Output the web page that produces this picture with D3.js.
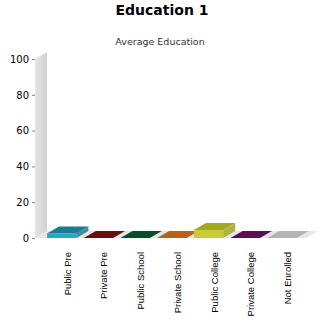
<!DOCTYPE html>
<html>
<head>
<meta charset="utf-8">
<script src="https://cdn.jsdelivr.net/npm/d3@7"></script>
<style>
  body { margin: 0; background: #fff; }
</style>
</head>
<body>
<div id="chart"></div>
<script>
// data
var categories = ['Public Pre', 'Private Pre', 'Public School', 'Private School', 'Public College', 'Private College', 'Not Enrolled'];
var values = [2.5, 0, 0, 0, 4.5, 0, 0];
var yTicks = [0, 20, 40, 60, 80, 100];
var frontColors = ['#26a8c6', '#7a1414', '#0f5c30', '#d2712c', '#c9cd33', '#6e1463', '#a6a6a6'];
var topColors = ['#1b7c90', '#6a0f0f', '#0c4d28', '#b8601f', '#a3a822', '#5b0f52', '#b4b4b4'];

var svgWidth = 325;
var svgHeight = 325;

// 3d depth offset
var dx = 12;
var dy = -7;

var svg = d3.select('#chart')
  .append('svg')
  .attr('width', svgWidth)
  .attr('height', svgHeight);

var x = d3.scaleBand()
  .domain(categories)
  .range([39.7, 304])
  .paddingInner(0.2)
  .paddingOuter(0.2);

var y = d3.scaleLinear()
  .domain([0, 100])
  .range([238, 59]);

var x0 = 35;
var x1 = 306;

// title
svg.append('text')
  .attr('x', 162)
  .attr('y', 15)
  .attr('text-anchor', 'middle')
  .attr('font-family', 'DejaVu Sans')
  .attr('font-weight', 'bold')
  .attr('font-size', '14px')
  .text('Education 1');

svg.append('text')
  .attr('x', 160)
  .attr('y', 45)
  .attr('text-anchor', 'middle')
  .attr('font-family', 'DejaVu Sans')
  .attr('font-size', '9.5px')
  .attr('fill', '#333')
  .text('Average Education');

// wall
var wallGrad = svg.append('defs').append('linearGradient')
  .attr('id', 'wallGrad')
  .attr('x1', '0').attr('x2', '1').attr('y1', '0').attr('y2', '0');
wallGrad.append('stop').attr('offset', '0').attr('stop-color', '#e4e4e4');
wallGrad.append('stop').attr('offset', '1').attr('stop-color', '#d2d2d2');

svg.append('polygon')
  .attr('points', [[x0, y(0)], [x0, y(100)], [x0 + dx, y(100) + dy], [x0 + dx, y(0) + dy]].join(' '))
  .attr('fill', 'url(#wallGrad)');

// floor
svg.append('polygon')
  .attr('points', [[x0, y(0)], [x1, y(0)], [x1 + dx, y(0) + dy], [x0 + dx, y(0) + dy]].join(' '))
  .attr('fill', '#e6e6e6');

// y axis
var leftAxis = d3.axisLeft(y)
  .tickValues(yTicks)
  .tickSize(3)
  .tickPadding(3);

var yAxis = svg.append('g')
  .attr('transform', `translate(${x0}, 0)`)
  .call(leftAxis);

yAxis.select('.domain').remove();
yAxis.selectAll('line').attr('stroke', '#888');
yAxis.selectAll('text')
  .attr('font-family', 'DejaVu Sans')
  .attr('font-size', '10px')
  .attr('fill', '#000');

// bars
var bars = svg.selectAll('.bar')
  .data(categories)
  .enter()
  .append('g')
  .classed('bar', true);

// top face
bars.append('polygon')
  .attr('points', function (d, i) {
    var bx = x(d);
    var by = y(values[i]);
    var w = x.bandwidth();
    return [[bx, by], [bx + w, by], [bx + w + dx, by + dy], [bx + dx, by + dy]].join(' ');
  })
  .attr('fill', (d, i) => topColors[i]);

// side face
bars.append('polygon')
  .attr('points', function (d, i) {
    var bx = x(d) + x.bandwidth();
    var by = y(values[i]);
    return [[bx, by], [bx + dx, by + dy], [bx + dx, y(0) + dy], [bx, y(0)]].join(' ');
  })
  .attr('fill', (d, i) => topColors[i])
  .attr('opacity', 0.85);

// front face
bars.append('rect')
  .attr('x', d => x(d))
  .attr('y', (d, i) => y(values[i]))
  .attr('width', x.bandwidth())
  .attr('height', (d, i) => y(0) - y(values[i]))
  .attr('fill', (d, i) => frontColors[i]);

// x labels
svg.selectAll('.xLabel')
  .data(categories)
  .enter()
  .append('text')
  .classed('xLabel', true)
  .attr('transform', d => `translate(${x(d) + x.bandwidth() / 2 + dx / 2 + 3}, 252) rotate(-90)`)
  .attr('text-anchor', 'end')
  .attr('font-family', 'Liberation Sans')
  .attr('font-size', '9.5px')
  .attr('fill', '#000')
  .text(d => d);
</script>
</body>
</html>
